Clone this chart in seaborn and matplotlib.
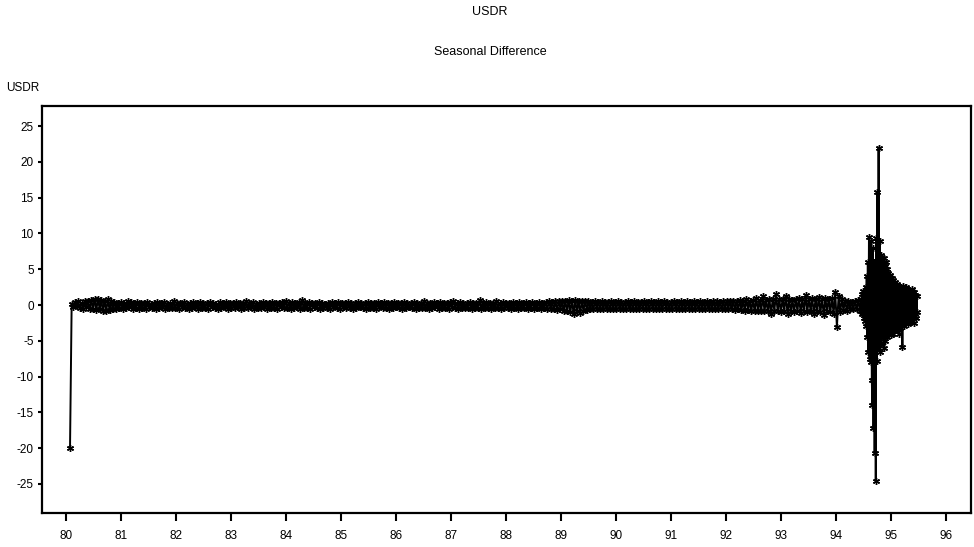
import matplotlib.pyplot as plt
import numpy as np
import pandas as pd
import seaborn as sns

# Valores (diferenca sazonal da serie USDR)
# trecho calmo 1980 - meados de 1994 (o primeiro ponto e o -20 do inicio)
quiet_start, quiet_end = 80.07, 94.44
quiet_values = [
    -20.0,
    0.2, -0.3, 0.4, -0.2, 0.5, -0.4, 0.3, -0.5, 0.6, -0.3, 0.5, -0.6, 0.7, -0.5, 0.8, -0.7, 0.9, -0.6, 0.7, -0.8,
    0.6, -0.9, 0.8, -0.7, 0.5, -0.6, 0.4, -0.5, 0.3, -0.4, 0.4, -0.5, 0.3, -0.4, 0.5, -0.3, 0.4, -0.5, 0.3, -0.4,
    0.4, -0.5, 0.3, -0.4, 0.3, -0.5, 0.4, -0.3, 0.2, -0.4, 0.3, -0.5, 0.4, -0.4, 0.3, -0.3, 0.4, -0.5, 0.2, -0.4,
    0.3, -0.4, 0.5, -0.4, 0.3, -0.5, 0.3, -0.3, 0.4, -0.4, 0.2, -0.5, 0.3, -0.4, 0.4, -0.3, 0.3, -0.5, 0.4, -0.4,
    0.3, -0.4, 0.3, -0.5, 0.4, -0.3, 0.3, -0.4, 0.2, -0.5, 0.4, -0.4, 0.3, -0.3, 0.4, -0.5, 0.3, -0.4, 0.3, -0.4,
    0.4, -0.3, 0.3, -0.5, 0.3, -0.4, 0.5, -0.4, 0.3, -0.3, 0.4, -0.5, 0.2, -0.4, 0.3, -0.4, 0.4, -0.3, 0.3, -0.5,
    0.3, -0.4, 0.4, -0.4, 0.3, -0.5, 0.3, -0.3, 0.4, -0.4, 0.6, -0.4, 0.3, -0.5, 0.4, -0.4, 0.3, -0.3, 0.4, -0.5,
    0.7, -0.4, 0.3, -0.4, 0.4, -0.5, 0.3, -0.3, 0.3, -0.4, 0.4, -0.5, 0.3, -0.4, 0.2, -0.4, 0.3, -0.5, 0.4, -0.3,
    0.3, -0.4, 0.4, -0.5, 0.3, -0.3, 0.3, -0.4, 0.4, -0.4, 0.3, -0.5, 0.3, -0.4, 0.4, -0.3, 0.3, -0.4, 0.3, -0.5,
    0.4, -0.4, 0.3, -0.4, 0.3, -0.5, 0.4, -0.3, 0.3, -0.4, 0.4, -0.4, 0.3, -0.5, 0.3, -0.4, 0.4, -0.3, 0.3, -0.4,
    0.3, -0.5, 0.4, -0.4, 0.3, -0.3, 0.3, -0.4, 0.4, -0.5, 0.3, -0.4, 0.3, -0.4, 0.5, -0.4, 0.3, -0.5, 0.3, -0.4,
    0.4, -0.3, 0.3, -0.5, 0.4, -0.4, 0.3, -0.4, 0.3, -0.5, 0.4, -0.3, 0.6, -0.4, 0.3, -0.5, 0.4, -0.4, 0.3, -0.4,
    0.3, -0.4, 0.4, -0.5, 0.3, -0.4, 0.3, -0.4, 0.7, -0.5, 0.3, -0.4, 0.4, -0.4, 0.3, -0.5, 0.3, -0.4, 0.6, -0.4,
    0.3, -0.5, 0.4, -0.4, 0.3, -0.4, 0.3, -0.6, 0.4, -0.4, 0.3, -0.5, 0.4, -0.4, 0.3, -0.4, 0.4, -0.5, 0.3, -0.4,
    0.4, -0.5, 0.3, -0.4, 0.4, -0.5, 0.3, -0.4, 0.4, -0.6, 0.5, -0.5, 0.4, -0.6, 0.5, -0.7, 0.6, -0.6, 0.5, -0.8,
    0.6, -0.9, 0.7, -1.0, 0.6, -1.2, 0.7, -0.9, 0.6, -1.1, 0.5, -0.8, 0.6, -0.7, 0.5, -0.6, 0.4, -0.6, 0.5, -0.5,
    0.4, -0.5, 0.5, -0.6, 0.4, -0.5, 0.4, -0.6, 0.5, -0.5, 0.4, -0.5, 0.5, -0.6, 0.4, -0.5, 0.4, -0.5, 0.5, -0.6,
    0.4, -0.5, 0.5, -0.5, 0.4, -0.6, 0.4, -0.5, 0.5, -0.5, 0.4, -0.6, 0.5, -0.5, 0.4, -0.5, 0.5, -0.6, 0.4, -0.5,
    0.5, -0.5, 0.4, -0.6, 0.4, -0.5, 0.5, -0.5, 0.4, -0.6, 0.5, -0.5, 0.4, -0.5, 0.5, -0.6, 0.4, -0.5, 0.5, -0.5,
    0.4, -0.6, 0.5, -0.5, 0.4, -0.5, 0.5, -0.6, 0.4, -0.5, 0.6, -0.6, 0.5, -0.5, 0.4, -0.6, 0.5, -0.6, 0.6, -0.5,
    0.5, -0.6, 0.6, -0.7, 0.5, -0.6, 0.7, -0.7, 0.6, -0.8, 0.9, -0.7, 0.6, -0.8, 0.7, -0.9, 1.0, -0.8, 0.7, -0.9,
    1.2, -0.8, 0.7, -0.9, 0.8, -1.3, 0.9, -0.8, 1.5, -0.9, 0.8, -1.0, 0.9, -0.8, 1.3, -1.2, 0.8, -0.9, 0.7, -1.0,
    0.9, -0.8, 1.0, -1.1, 0.8, -0.9, 1.4, -1.0, 0.9, -0.8, 1.0, -1.2, 0.8, -0.9, 1.1, -1.0, 0.9, -1.4, 1.0, -0.9,
    0.9, -1.0, 1.0, -1.2, 1.8, -3.1, 1.2, -1.0, 0.8, -0.7, 0.6, -0.8, 0.5, -0.6, 0.4, -0.5, 0.5, -0.6, 0.7, -0.8,
]

# trecho volatil do fim de 1994 ate 1995
vol_start, vol_end = 94.46, 95.48
vol_values = [
    0.8, -1.2, 1.5, -1.0, 2.0, -1.8, 1.2, -2.2, 2.5, -3.0,
    4.0, -4.5, 6.0, -6.5, 9.5, -7.5, 5.0, -8.0, 9.0, -10.5,
    -14.0, 8.0, -17.2, 6.0, -20.7, 5.0, -24.6, 9.4, -7.8, 15.8,
    -6.0, 22.0, -5.0, 9.0, -6.5, 7.0, -5.5, 6.5, -4.5, 5.5,
    6.5, -6.0, 5.5, -5.0, 6.0, -4.5, 5.0, -4.0, 4.5, -3.8,
    4.0, -3.5, 4.2, -4.2, 3.8, -3.0, 3.5, -4.0, 3.0, -3.5,
    3.2, -3.0, 2.8, -3.5, 3.0, -2.5, 2.6, -4.0, 2.4, -3.2,
    2.5, -2.8, 2.2, -5.9, 2.6, -3.0, 2.0, -2.5, 2.4, -2.2,
    2.5, -2.0, 2.2, -2.6, 1.8, -2.2, 2.0, -2.4, 1.6, -2.0,
    2.3, -1.8, 1.5, -2.5, 1.8, -1.6, 1.4, -1.8, 1.2, -1.0,
]

y_ticks = [-25, -20, -15, -10, -5, 0, 5, 10, 15, 20, 25]
x_ticks = list(range(80, 97))

# Montando o dataframe com o eixo de tempo (anos decimais)
df = pd.DataFrame({
    'ano': np.concatenate([np.linspace(quiet_start, quiet_end, len(quiet_values)),
                           np.linspace(vol_start, vol_end, len(vol_values))]),
    'USDR': quiet_values + vol_values,
})

sns.set_style('white')
plt.rcParams['font.family'] = ['Liberation Sans', 'DejaVu Sans']
plt.rcParams['text.color'] = 'black'
plt.rcParams['xtick.color'] = 'black'
plt.rcParams['ytick.color'] = 'black'

fig = plt.figure(figsize=(9.74, 5.47), dpi=100)
ax = fig.add_axes([0.0431, 0.0622, 0.9538, 0.744])

sns.lineplot(data=df, x='ano', y='USDR', ax=ax, sort=False, estimator=None,
             color='black', linewidth=1.4, marker=(6, 2, 0), markersize=5,
             markeredgewidth=1.0, markeredgecolor='black')

ax.set_xlim(79.56, 96.46)
ax.set_ylim(-29.05, 27.8)
ax.set_xticks(x_ticks)
ax.set_xticklabels([str(t) for t in x_ticks])
ax.set_yticks(y_ticks)
ax.set_yticklabels([str(t) for t in y_ticks])
ax.set_xlabel('')
ax.set_ylabel('')

for s in ax.spines.values():
    s.set_visible(True)
    s.set_color('black')
    s.set_linewidth(1.6)

ax.tick_params(axis='x', direction='out', length=6, width=1.5, colors='black',
               labelsize=8.5, pad=6, bottom=True)
ax.tick_params(axis='y', direction='out', length=3, width=1.5, colors='black',
               labelsize=8.5, pad=3, left=True)

# Titulos e rotulo do eixo y
fig.text(0.503, 0.978, 'USDR', ha='center', va='center', fontsize=9, color='black')
fig.text(0.503, 0.905, 'Seasonal Difference', ha='center', va='center', fontsize=9, color='black')
fig.text(0.006, 0.839, 'USDR', ha='left', va='center', fontsize=8.5, color='black')

plt.savefig('out.png', dpi=100)
plt.close()
